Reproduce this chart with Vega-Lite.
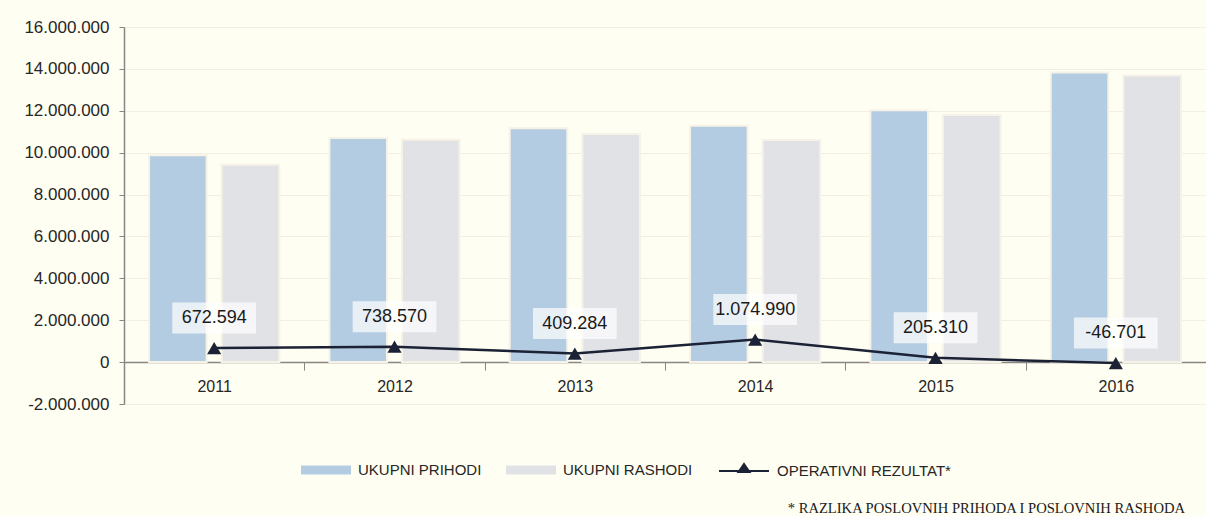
{
  "$schema": "https://vega.github.io/schema/vega-lite/v6.json",
  "autosize": "none",
  "width": 1082,
  "height": 377,
  "padding": {"left": 124, "top": 27, "right": 0, "bottom": 112},
  "background": "#FFFEF2",
  "datasets": {
    "bars": [
      {"year": "2011", "series": "UKUPNI PRIHODI", "value": 9880000},
      {"year": "2011", "series": "UKUPNI RASHODI", "value": 9420000},
      {"year": "2012", "series": "UKUPNI PRIHODI", "value": 10700000},
      {"year": "2012", "series": "UKUPNI RASHODI", "value": 10620000},
      {"year": "2013", "series": "UKUPNI PRIHODI", "value": 11170000},
      {"year": "2013", "series": "UKUPNI RASHODI", "value": 10890000},
      {"year": "2014", "series": "UKUPNI PRIHODI", "value": 11280000},
      {"year": "2014", "series": "UKUPNI RASHODI", "value": 10600000},
      {"year": "2015", "series": "UKUPNI PRIHODI", "value": 12030000},
      {"year": "2015", "series": "UKUPNI RASHODI", "value": 11800000},
      {"year": "2016", "series": "UKUPNI PRIHODI", "value": 13830000},
      {"year": "2016", "series": "UKUPNI RASHODI", "value": 13690000}
    ],
    "result": [
      {"year": "2011", "series": "OPERATIVNI REZULTAT*", "value": 672594},
      {"year": "2012", "series": "OPERATIVNI REZULTAT*", "value": 738570},
      {"year": "2013", "series": "OPERATIVNI REZULTAT*", "value": 409284},
      {"year": "2014", "series": "OPERATIVNI REZULTAT*", "value": 1074990},
      {"year": "2015", "series": "OPERATIVNI REZULTAT*", "value": 205310},
      {"year": "2016", "series": "OPERATIVNI REZULTAT*", "value": -46701}
    ]
  },
  "title": {
    "text": "* RAZLIKA POSLOVNIH PRIHODA I POSLOVNIH RASHODA",
    "orient": "bottom",
    "anchor": "end",
    "frame": "group",
    "font": "Liberation Serif",
    "fontSize": 14.6,
    "fontWeight": "normal",
    "color": "#1a1a1a",
    "offset": 22,
    "dx": -21
  },
  "encoding": {
    "x": {
      "field": "year",
      "type": "nominal",
      "scale": {"paddingInner": 0, "paddingOuter": 0},
      "axis": {
        "title": null,
        "orient": "bottom",
        "offset": -41.9,
        "labelAngle": 0,
        "tickBand": "extent",
        "domainColor": "#8A8684",
        "domainWidth": 1.5,
        "tickColor": "#8A8684",
        "tickSize": 8,
        "tickWidth": 1,
        "labelPadding": 8,
        "labelFont": "Liberation Sans",
        "labelFontSize": 16,
        "labelColor": "#262626",
        "grid": false
      }
    },
    "y": {
      "field": "value",
      "type": "quantitative",
      "scale": {"domain": [-2000000, 16000000], "nice": false, "zero": false},
      "axis": {
        "title": null,
        "values": [-2000000, 0, 2000000, 4000000, 6000000, 8000000, 10000000, 12000000, 14000000, 16000000],
        "format": ",d",
        "domainColor": "#8A8684",
        "domainWidth": 1.5,
        "tickColor": "#8A8684",
        "tickSize": 5,
        "labelPadding": 10,
        "labelFont": "Liberation Sans",
        "labelFontSize": 17,
        "labelColor": "#262626",
        "grid": true,
        "gridColor": "#F3EEE2",
        "gridWidth": 1.2
      }
    }
  },
  "layer": [
    {
      "data": {"name": "bars"},
      "mark": {"type": "bar", "stroke": "#F7F2E8", "strokeWidth": 2},
      "encoding": {
        "xOffset": {
          "field": "series",
          "type": "nominal",
          "scale": {"domain": ["UKUPNI PRIHODI", "UKUPNI RASHODI"], "paddingInner": 0.207, "paddingOuter": 0.345}
        },
        "color": {
          "field": "series",
          "type": "nominal",
          "scale": {
            "domain": ["UKUPNI PRIHODI", "UKUPNI RASHODI"],
            "range": ["#B3CCE1", "#E1E2E6"]
          },
          "legend": {
            "title": null,
            "orient": "none",
            "direction": "horizontal",
            "legendX": 177,
            "legendY": 418,
            "padding": 0,
            "columnPadding": 24,
            "labelOffset": 7,
            "labelFont": "Liberation Sans",
            "labelFontSize": 15,
            "labelColor": "#262626",
            "labelLimit": 400,
            "symbolType": "M-1,-0.18H1V0.18H-1Z",
            "symbolSize": 2500,
            "symbolStrokeWidth": 0,
            "symbolOpacity": 1
          }
        }
      }
    },
    {
      "data": {"name": "result"},
      "mark": {"type": "line", "strokeWidth": 2.5},
      "encoding": {
        "stroke": {
          "field": "series",
          "type": "nominal",
          "scale": {"domain": ["OPERATIVNI REZULTAT*"], "range": ["#1C2236"]},
          "legend": {
            "title": null,
            "orient": "none",
            "direction": "horizontal",
            "legendX": 594,
            "legendY": 418,
            "padding": 0,
            "labelOffset": 7,
            "labelFont": "Liberation Sans",
            "labelFontSize": 15,
            "labelColor": "#262626",
            "labelLimit": 400,
            "symbolType": "M-1,0H1M-0.22,0.04L0,-0.28L0.22,0.04Z",
            "symbolSize": 2500,
            "symbolStrokeWidth": 2,
            "symbolFillColor": "#1C2236",
            "symbolOpacity": 1,
            "encode": {
              "symbols": {
                "update": {
                  "fill": {"value": "#1C2236"},
                  "stroke": {"value": "#1C2236"},
                  "strokeWidth": {"value": 2}
                }
              }
            }
          }
        }
      }
    },
    {
      "data": {"name": "result"},
      "mark": {"type": "point", "shape": "triangle-up", "size": 200, "filled": true, "color": "#1C2236", "opacity": 1}
    },
    {
      "data": {"name": "result"},
      "mark": {"type": "point", "shape": "M-2.7,-1H2.7V1H-2.7Z", "size": 961, "filled": true, "color": "#FFFFFF", "opacity": 0.7, "strokeWidth": 0, "yOffset": -30}
    },
    {
      "data": {"name": "result"},
      "mark": {"type": "text", "font": "Liberation Sans", "fontSize": 18, "color": "#1a1a1a", "yOffset": -30, "baseline": "middle", "align": "center"},
      "encoding": {
        "text": {"field": "value", "type": "quantitative", "format": ",d"}
      }
    }
  ],
  "resolve": {"legend": {"color": "independent", "stroke": "independent"}},
  "config": {
    "locale": {
      "number": {"decimal": ",", "thousands": ".", "grouping": [3], "currency": ["", ""], "minus": "-"}
    },
    "view": {"stroke": null}
  }
}
